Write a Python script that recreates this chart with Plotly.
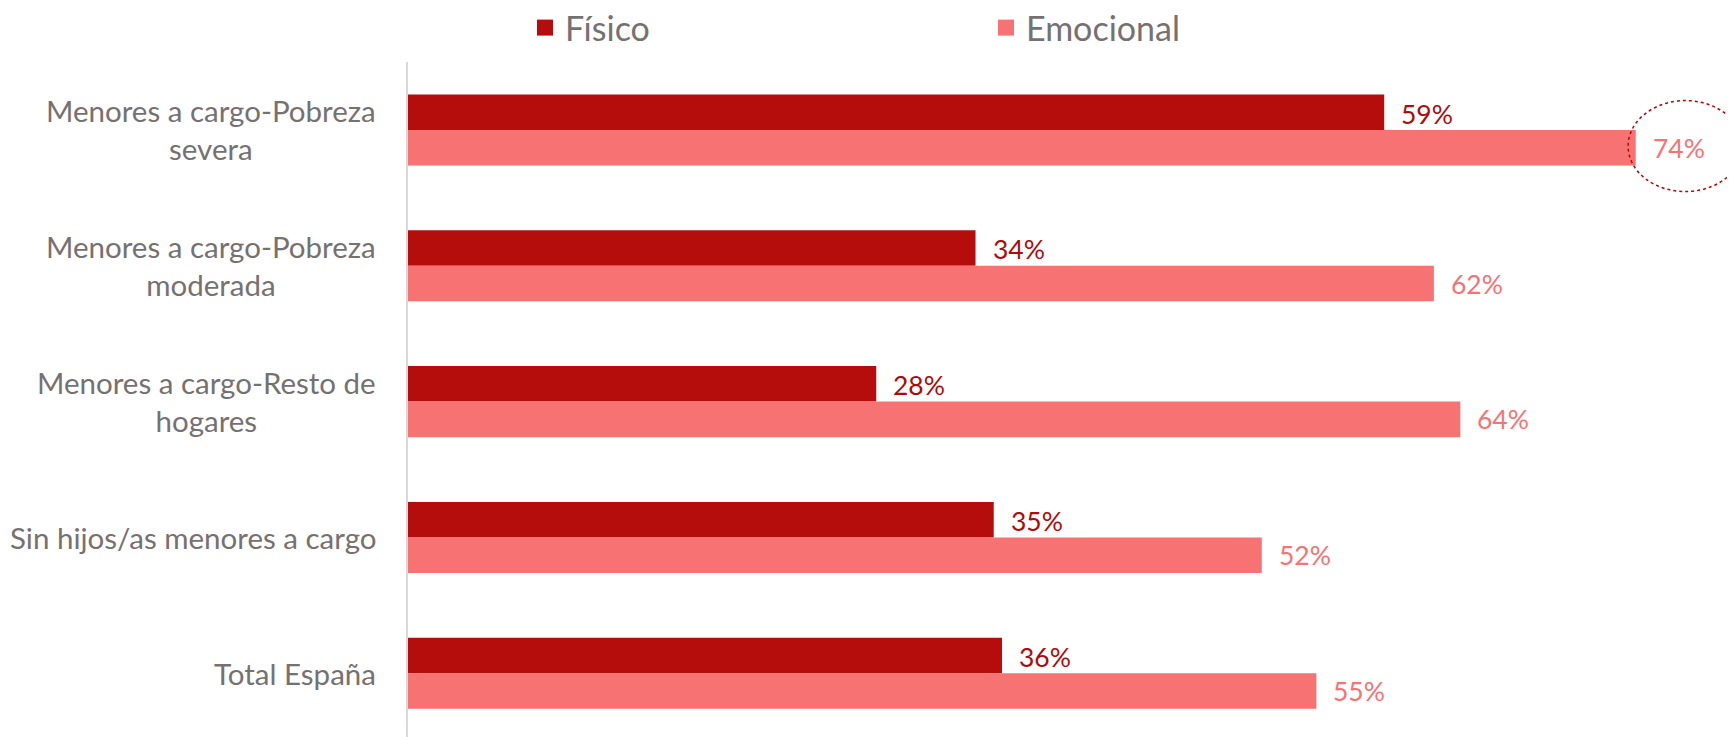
import plotly.graph_objects as go

categories = ["Menores a cargo-Pobreza severa", "Menores a cargo-Pobreza moderada",
              "Menores a cargo-Resto de hogares", "Sin hijos/as menores a cargo", "Total España"]
cat_labels = ["Menores a cargo-Pobreza<br>severa", "Menores a cargo-Pobreza<br>moderada",
              "Menores a cargo-Resto de<br>hogares", "Sin hijos/as menores a cargo", "Total España"]
series_names = ["Físico", "Emocional"]
# values (labels show them rounded)
fisico = [59.0, 34.3, 28.3, 35.4, 35.9]
emocional = [74.2, 62.0, 63.6, 51.6, 54.9]

DARK = "#B50C0C"
LIGHT = "#F77272"
GRAY = "#767171"
FONT = "Lato"

# the page body has an 8px margin; size the figure so it fills the window exactly
PAGE_OFFSET = 8
W, H = 1735 - PAGE_OFFSET, 737 - PAGE_OFFSET

fig = go.Figure()
for name, vals, col in zip(series_names, [fisico, emocional], [DARK, LIGHT]):
    fig.add_trace(go.Bar(y=categories, x=vals, orientation="h", name=name, showlegend=False,
                         legendgroup=name, marker=dict(color=col, line=dict(width=0))))
# legend entries with larger square swatches
for name, col in zip(series_names, [DARK, LIGHT]):
    fig.add_trace(go.Scatter(x=[None], y=[None], mode="markers", name=name, legendgroup=name,
                             marker=dict(symbol="square", size=20, color=col)))

bargap = 0.477
half = (1 - bargap) / 4  # offset of each bar center from category center

annotations = []
for i, lab in enumerate(cat_labels):
    annotations.append(dict(x=-0.0226, xref="paper", y=i, yref="y", text=lab, showarrow=False,
                            xanchor="right", yanchor="middle", align="center",
                            font=dict(family=FONT, size=29.5, color=GRAY)))
for i, v in enumerate(fisico):
    annotations.append(dict(x=v, y=i - half + 0.01, xref="x", yref="y", text=f"{round(v)}%",
                            showarrow=False, xanchor="left", yanchor="middle", xshift=15,
                            font=dict(family=FONT, size=26.5, color="#B00A0A")))
for i, v in enumerate(emocional):
    annotations.append(dict(x=v, y=i + half, xref="x", yref="y", text=f"{round(v)}%",
                            showarrow=False, xanchor="left", yanchor="middle", xshift=15,
                            font=dict(family=FONT, size=26.5, color=LIGHT)))

fig.update_layout(
    width=W, height=H,
    margin=dict(l=408 - PAGE_OFFSET, r=0, t=62 - PAGE_OFFSET, b=0, autoexpand=False),
    paper_bgcolor="white", plot_bgcolor="white",
    barmode="group", bargap=bargap, bargroupgap=0,
    font=dict(family=FONT, color=GRAY),
    xaxis=dict(range=[0, 80.2], visible=False, showgrid=False, zeroline=False),
    yaxis=dict(range=[4.469, -0.5], showticklabels=False, showgrid=False, zeroline=False,
               showline=True, linecolor="#D9D9D9", linewidth=2, ticks=""),
    legend=dict(orientation="h", xref="container", yref="container",
                x=(525 - PAGE_OFFSET) / W, xanchor="left",
                y=1 - (28 - PAGE_OFFSET) / H, yanchor="middle",
                font=dict(family=FONT, size=34, color=GRAY), entrywidth=416,
                bgcolor="rgba(0,0,0,0)"),
    annotations=annotations,
)

# dotted highlight ellipse around the largest value
cx = emocional[0] + 3.0
cy = 0.119
fig.add_shape(type="circle", xref="x", yref="y",
              x0=cx - 3.46, x1=cx + 3.46, y0=cy - 0.335, y1=cy + 0.335,
              line=dict(color="#C00000", width=1.5, dash="dot"))

fig.write_html("out.html")
